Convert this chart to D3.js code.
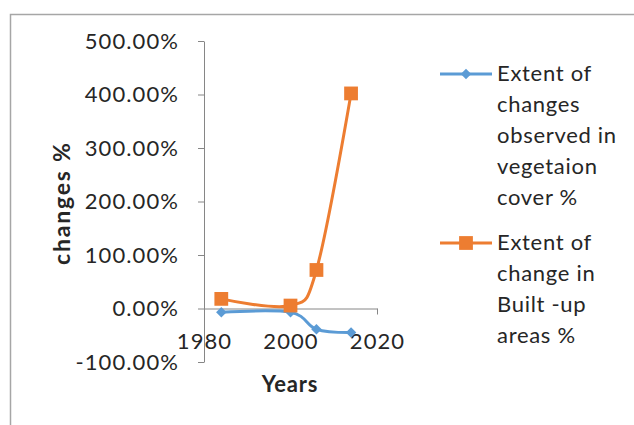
<!DOCTYPE html>
<html>
<head>
<meta charset="utf-8">
<script src="https://cdn.jsdelivr.net/npm/d3@7"></script>
<style>
  html, body { margin: 0; padding: 0; background: #fff; }
  svg { display: block; }
</style>
</head>
<body>
<svg id="chart" width="634" height="425"></svg>
<script>
// Survey years and the two change series (fractions: 1 = 100%)
const years = [1984, 2000, 2006, 2014];
const vegetationChange = [-0.07, -0.07, -0.39, -0.45];
const builtUpChange = [0.18, 0.055, 0.72, 4.02];
const yTicks = [-1, 0, 1, 2, 3, 4, 5];
const xTicks = [1980, 2000, 2020];
const vegetationLabel = ["Extent of", "changes", "observed in", "vegetaion", "cover %"];
const builtUpLabel = ["Extent of", "change in", "Built -up", "areas %"];

const blue = "#5b9bd5";
const orange = "#ed7d31";
const axisColor = "#868686";
const textColor = "#262626";
const font = "Lato, 'Open Sans', sans-serif";

const svg = d3.select("#chart");

// outer chart frame
svg.append("rect")
  .attr("x", 10.5).attr("y", 14.5)
  .attr("width", 700).attr("height", 500)
  .attr("fill", "none").attr("stroke", "#a6a6a6").attr("stroke-width", 1.5);

const x = d3.scaleLinear().domain([1980, 2020]).range([204, 377]);
const y = d3.scaleLinear().domain([-1, 5]).range([362, 41]);

function styleText(sel, size, spacing) {
  sel.attr("fill", textColor)
    .style("font-family", font)
    .style("font-size", size + "px")
    .style("letter-spacing", spacing + "px");
}

// y axis
const yAxis = d3.axisLeft(y).tickValues(yTicks)
  .tickFormat(d => (d * 100).toFixed(2) + "%")
  .tickSize(6).tickSizeOuter(0).tickPadding(19);
const gy = svg.append("g").attr("transform", `translate(${x(1980)},0)`).call(yAxis);
gy.select(".domain").attr("stroke", axisColor);
gy.selectAll(".tick line").attr("stroke", axisColor);
styleText(gy.selectAll(".tick text"), 22, 1.1);

// x axis crosses at 0%
const xAxis = d3.axisBottom(x).tickValues(xTicks)
  .tickFormat(d3.format("d")).tickSize(6).tickSizeOuter(0).tickPadding(19);
const gx = svg.append("g").attr("transform", `translate(0,${y(0)})`).call(xAxis);
gx.select(".domain").attr("stroke", axisColor);
gx.selectAll(".tick line").attr("stroke", axisColor);
styleText(gx.selectAll(".tick text"), 22, 1.1);

// axis titles
styleText(svg.append("text")
  .attr("transform", `translate(70,${y(1.97)}) rotate(-90)`)
  .attr("text-anchor", "middle")
  .style("font-weight", "bold")
  .text("changes %"), 23, 1.8);
styleText(svg.append("text")
  .attr("x", 290).attr("y", 392)
  .attr("text-anchor", "middle")
  .style("font-weight", "bold")
  .text("Years"), 22, 0.8);

const line = d3.line()
  .x((d, i) => x(years[i])).y(d => y(d))
  .curve(d3.curveCatmullRom.alpha(0));

const diamond = d3.symbol().type(d3.symbolSquare).size(55);
const square = d3.symbol().type(d3.symbolSquare).size(190);

function drawSeries(values, color, sym, rot) {
  svg.append("path").datum(values)
    .attr("d", line).attr("fill", "none")
    .attr("stroke", color).attr("stroke-width", 3)
    .attr("stroke-linejoin", "round");
  svg.selectAll(null).data(values).enter().append("path")
    .attr("d", sym)
    .attr("transform", (d, i) => `translate(${x(years[i])},${y(d)}) rotate(${rot})`)
    .attr("fill", color);
}
drawSeries(vegetationChange, blue, diamond, 45);
drawSeries(builtUpChange, orange, square, 0);

// legend
function legendEntry(top, color, sym, rot, lines) {
  svg.append("line").attr("x1", 440).attr("x2", 492)
    .attr("y1", top).attr("y2", top)
    .attr("stroke", color).attr("stroke-width", 3);
  svg.append("path").attr("d", sym)
    .attr("transform", `translate(466,${top}) rotate(${rot})`).attr("fill", color);
  const t = svg.append("text");
  styleText(t, 22, 0.7);
  lines.forEach((s, i) => {
    t.append("tspan").attr("x", 497).attr("y", top + 7 + i * 31).text(s);
  });
}
legendEntry(74, blue, diamond, 45, vegetationLabel);
legendEntry(243, orange, square, 0, builtUpLabel);
</script>
</body>
</html>
